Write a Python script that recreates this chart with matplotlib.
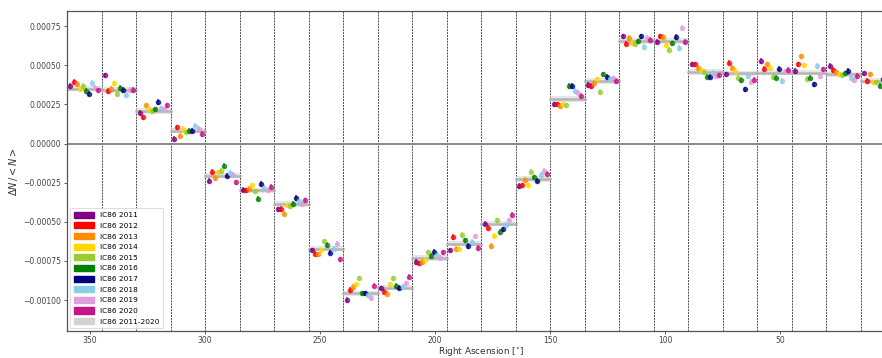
import numpy as np
import matplotlib
matplotlib.use('Agg')
import matplotlib.pyplot as plt
import matplotlib.patches as mpatches

# ============================================================
# DATA  (relative intensity dN/<N>, in units of 1e-4)
# 24 RA bins of 15 deg, from 360 down to 0
# ============================================================

bin_width = 15.0
ra_centers = np.arange(352.5, 0, -bin_width)

years = ["2011", "2012", "2013", "2014", "2015",
         "2016", "2017", "2018", "2019", "2020"]
colors = ["purple", "red", "darkorange", "gold", "yellowgreen",
          "green", "navy", "skyblue", "plum", "mediumvioletred"]

ic86_2011 = [3.68, 4.36, 1.98, 0.29, -2.37, -2.94, -4.21, -6.82, -10.0, -9.25, -7.56, -6.82,
             -5.12, -2.72, 2.51, 3.74, 6.86, 6.50, 5.06, 4.42, 5.27, 4.63, 4.95, 4.48]
ic86_2012 = [3.93, 3.36, 1.67, 1.03, -1.79, -3.00, -4.18, -7.03, -9.36, -9.46, -7.66, -5.97,
             -5.39, -2.68, 2.51, 3.68, 6.37, 6.86, 5.06, 5.16, 4.78, 5.06, 4.70, 4.00]
ic86_2013 = [3.78, 3.51, 2.45, 0.50, -2.21, -2.90, -4.49, -7.09, -9.15, -9.60, -7.56, -6.71,
             -6.54, -2.34, 2.40, 3.85, 6.74, 6.80, 4.85, 4.85, 5.06, 5.58, 4.57, 4.42]
ic86_2014 = [3.47, 3.85, 2.19, 0.92, -1.83, -2.68, -3.96, -6.82, -9.00, -9.00, -7.45, -6.71,
             -5.90, -2.68, 2.51, 4.10, 6.43, 6.30, 4.70, 4.63, 4.85, 5.00, 4.42, 3.90]
ic86_2015 = [3.68, 3.19, 2.09, 0.72, -1.73, -3.05, -4.00, -6.24, -8.62, -8.62, -6.96, -5.82,
             -4.91, -1.79, 2.45, 3.30, 6.37, 6.00, 4.57, 4.21, 4.27, 4.15, 4.36, 3.90]
ic86_2016 = [3.36, 3.57, 2.19, 0.82, -1.41, -3.53, -3.85, -6.48, -9.57, -9.08, -7.17, -6.18,
             -5.65, -2.15, 3.68, 4.42, 6.54, 6.40, 4.27, 4.06, 4.21, 4.21, 4.48, 3.70]
ic86_2017 = [3.19, 3.42, 2.66, 0.82, -2.05, -2.58, -3.49, -6.97, -9.57, -9.21, -6.92, -6.54,
             -5.48, -2.37, 3.68, 4.25, 6.86, 6.80, 4.27, 3.47, 4.78, 3.78, 4.63, 4.10]
ic86_2018 = [3.89, 3.08, 2.25, 1.13, -1.88, -2.83, -3.70, -6.71, -9.70, -9.15, -7.13, -6.29,
             -5.20, -2.00, 3.36, 4.10, 6.16, 6.10, 4.50, 4.30, 4.00, 4.95, 4.21, 4.00]
ic86_2019 = [3.57, 3.42, 2.19, 0.92, -2.00, -3.00, -3.85, -6.39, -9.85, -8.94, -7.30, -5.92,
             -4.91, -1.74, 3.25, 4.16, 6.74, 7.40, 4.31, 3.93, 4.57, 4.31, 4.06, 3.80]
ic86_2020 = [3.40, 3.42, 2.45, 0.60, -2.47, -2.76, -3.64, -7.40, -9.08, -8.51, -6.96, -6.67,
             -4.55, -1.94, 3.04, 4.00, 6.64, 6.50, 4.36, 4.06, 4.70, 4.74, 4.31, 3.90]
ic86_all = [3.51, 3.42, 2.09, 0.82, -2.05, -3.00, -3.85, -6.71, -9.57, -9.21, -7.30, -6.39,
            -5.12, -2.26, 2.83, 4.00, 6.54, 6.54, 4.57, 4.48, 4.53, 4.53, 4.42, 4.00]

err_year = 0.17
err_all = 0.07
scale = 1e-4

yearly = [ic86_2011, ic86_2012, ic86_2013, ic86_2014, ic86_2015,
          ic86_2016, ic86_2017, ic86_2018, ic86_2019, ic86_2020]

# ============================================================
# PLOT
# ============================================================

fig = plt.figure(figsize=(8.82, 3.58), dpi=100)
ax = fig.add_axes([0.076, 0.0745, 0.939, 0.894])

# combined 2011-2020 band per bin
all_vals = np.array(ic86_all) * scale
for c, v in zip(ra_centers, all_vals):
    lo, hi = c - bin_width / 2, c + bin_width / 2
    ax.fill_between([lo, hi], v - err_all * scale * 2.5, v + err_all * scale * 2.5,
                    color="lightgray", alpha=0.55, lw=0, zorder=2)
    ax.plot([lo, hi], [v, v], color="darkgray", lw=1.8, alpha=0.8, zorder=2)

# individual years, spread inside each bin
step = 1.333
for i, (vals, col) in enumerate(zip(yearly, colors)):
    x = ra_centers + (4.5 - i) * step
    ax.errorbar(x, np.array(vals) * scale, yerr=err_year * scale,
                fmt="o", ms=3.0, color=col, ecolor=col, elinewidth=1.3,
                capsize=0, alpha=0.7, zorder=3)

# bin boundaries
for edge in np.arange(345, 0, -bin_width):
    ax.axvline(edge, color="k", ls=(0, (2, 1)), lw=0.7, alpha=0.7, zorder=1)

ax.axhline(0, color="gray", lw=1.3, zorder=1)

ax.set_xlim(360, 0)
ax.set_ylim(-0.0012, 0.000845)
ax.set_xticks([350, 300, 250, 200, 150, 100, 50])
ax.set_yticks([-0.001, -0.00075, -0.0005, -0.00025, 0, 0.00025, 0.0005, 0.00075])
ax.set_yticklabels(["\u22120.00100", "\u22120.00075", "\u22120.00050", "\u22120.00025",
                    "0.00000", "0.00025", "0.00050", "0.00075"])
ax.tick_params(labelsize=5.5, length=2.5, width=0.6, colors="#444444", pad=2)
ax.tick_params(axis="x", pad=1)
for sp in ax.spines.values():
    sp.set_color("#555555")
    sp.set_linewidth(0.9)

ax.set_xlabel("Right Ascension [$^{\\circ}$]", fontsize=6.4, color="#333333")
ax.xaxis.set_label_coords(0.5, -0.042)
ax.set_ylabel("$\\Delta N\\,/<N>$", fontsize=7, color="#333333", labelpad=2)

handles = [mpatches.Patch(color=c, label="IC86 " + y) for c, y in zip(colors, years)]
handles.append(mpatches.Patch(color="lightgray", label="IC86 2011-2020"))
leg = ax.legend(handles=handles, loc="lower left", fontsize=5.3, frameon=True,
                handlelength=2.8, handleheight=0.9, labelspacing=0.55,
                borderpad=0.5, borderaxespad=0.4, framealpha=0.9)
leg.get_frame().set_linewidth(0.5)

plt.savefig("out.png", dpi=100)
plt.close()
